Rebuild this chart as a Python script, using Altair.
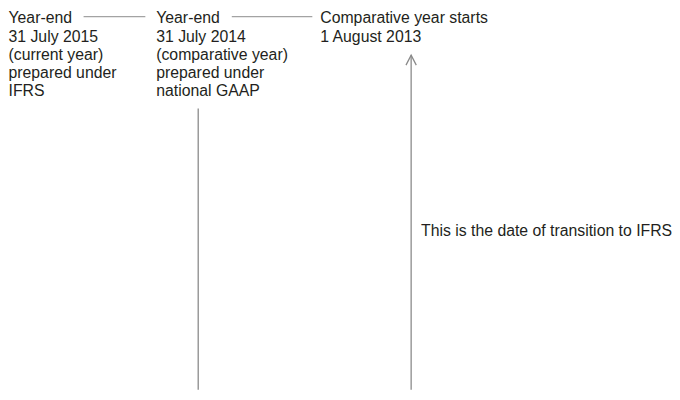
import altair as alt
import pandas as pd

# ---- content -------------------------------------------------------------
col_x = [8.5, 158, 324]  # left edge of each text column (reference px)
col_lines = [
    ["Year-end", "31 July 2015", "(current year)", "prepared under", "IFRS"],
    ["Year-end", "31 July 2014", "(comparative year)", "prepared under", "national GAAP"],
    ["Comparative year starts", "1 August 2013"],
]
first_baseline = 21.3
line_step = 18.3

# connectors between headings
conn_x1 = [84.5, 234.5]
conn_x2 = [147, 316]
conn_y = [14.5, 14.5]

# vertical lines (x, top, bottom)
vert_x = [200.5, 416]
vert_top = [107.5, 53.5]
vert_bottom = [400, 400]

# arrow head at top of second vertical line
arrow_x = [410.8, 416, 421.2]
arrow_y = [63.5, 53.5, 63.5]

note_text = ["This is the date of transition to IFRS"]
note_x = [426]
note_y = [236]

# ---- tables ---------------------------------------------------------------
rows = []
for cx, lines in zip(col_x, col_lines):
    for i, t in enumerate(lines):
        rows.append({"x": cx, "y": first_baseline + i * line_step, "t": t})
text_df = pd.DataFrame(rows)
conn_df = pd.DataFrame({"x": conn_x1, "x2": conn_x2, "y": conn_y})
vert_df = pd.DataFrame({"x": vert_x, "y": vert_top, "y2": vert_bottom})
arrow_df = pd.DataFrame({"x": arrow_x, "y": arrow_y, "o": [0, 1, 2]})
note_df = pd.DataFrame({"x": note_x, "y": note_y, "t": note_text})

W, H = 672, 384
xs = alt.Scale(domain=[8, 8 + W], range=[0, W], nice=False, zero=False)
ys = alt.Scale(domain=[8, 8 + H], range=[0, H], nice=False, zero=False)

FONT = "Liberation Sans"
TXT = "#231f20"
LINE = "#8a8a8a"
FS = 16

text = alt.Chart(text_df).mark_text(
    align="left", baseline="alphabetic", font=FONT, fontSize=FS, color=TXT
).encode(
    x=alt.X("x:Q", scale=xs, axis=None),
    y=alt.Y("y:Q", scale=ys, axis=None),
    text="t:N",
)

conn = alt.Chart(conn_df).mark_rule(color=LINE, strokeWidth=1).encode(
    x=alt.X("x:Q", scale=xs, axis=None),
    x2="x2:Q",
    y=alt.Y("y:Q", scale=ys, axis=None),
)

vert = alt.Chart(vert_df).mark_rule(color=LINE, strokeWidth=1.3, clip=True).encode(
    x=alt.X("x:Q", scale=xs, axis=None),
    y=alt.Y("y:Q", scale=ys, axis=None),
    y2="y2:Q",
)

arrow = alt.Chart(arrow_df).mark_line(color=LINE, strokeWidth=1.3).encode(
    x=alt.X("x:Q", scale=xs, axis=None),
    y=alt.Y("y:Q", scale=ys, axis=None),
    order="o:Q",
)

note = alt.Chart(note_df).mark_text(
    align="left", baseline="alphabetic", font=FONT, fontSize=FS, color=TXT
).encode(
    x=alt.X("x:Q", scale=xs, axis=None),
    y=alt.Y("y:Q", scale=ys, axis=None),
    text="t:N",
)

chart = alt.layer(conn, vert, arrow, text, note).properties(
    width=W, height=H, padding=0, autosize=alt.AutoSizeParams(type="none"),
    background="white",
).configure_view(stroke=None, strokeWidth=0)

chart.save("out.html", embed_options={"renderer": "svg", "actions": False})
